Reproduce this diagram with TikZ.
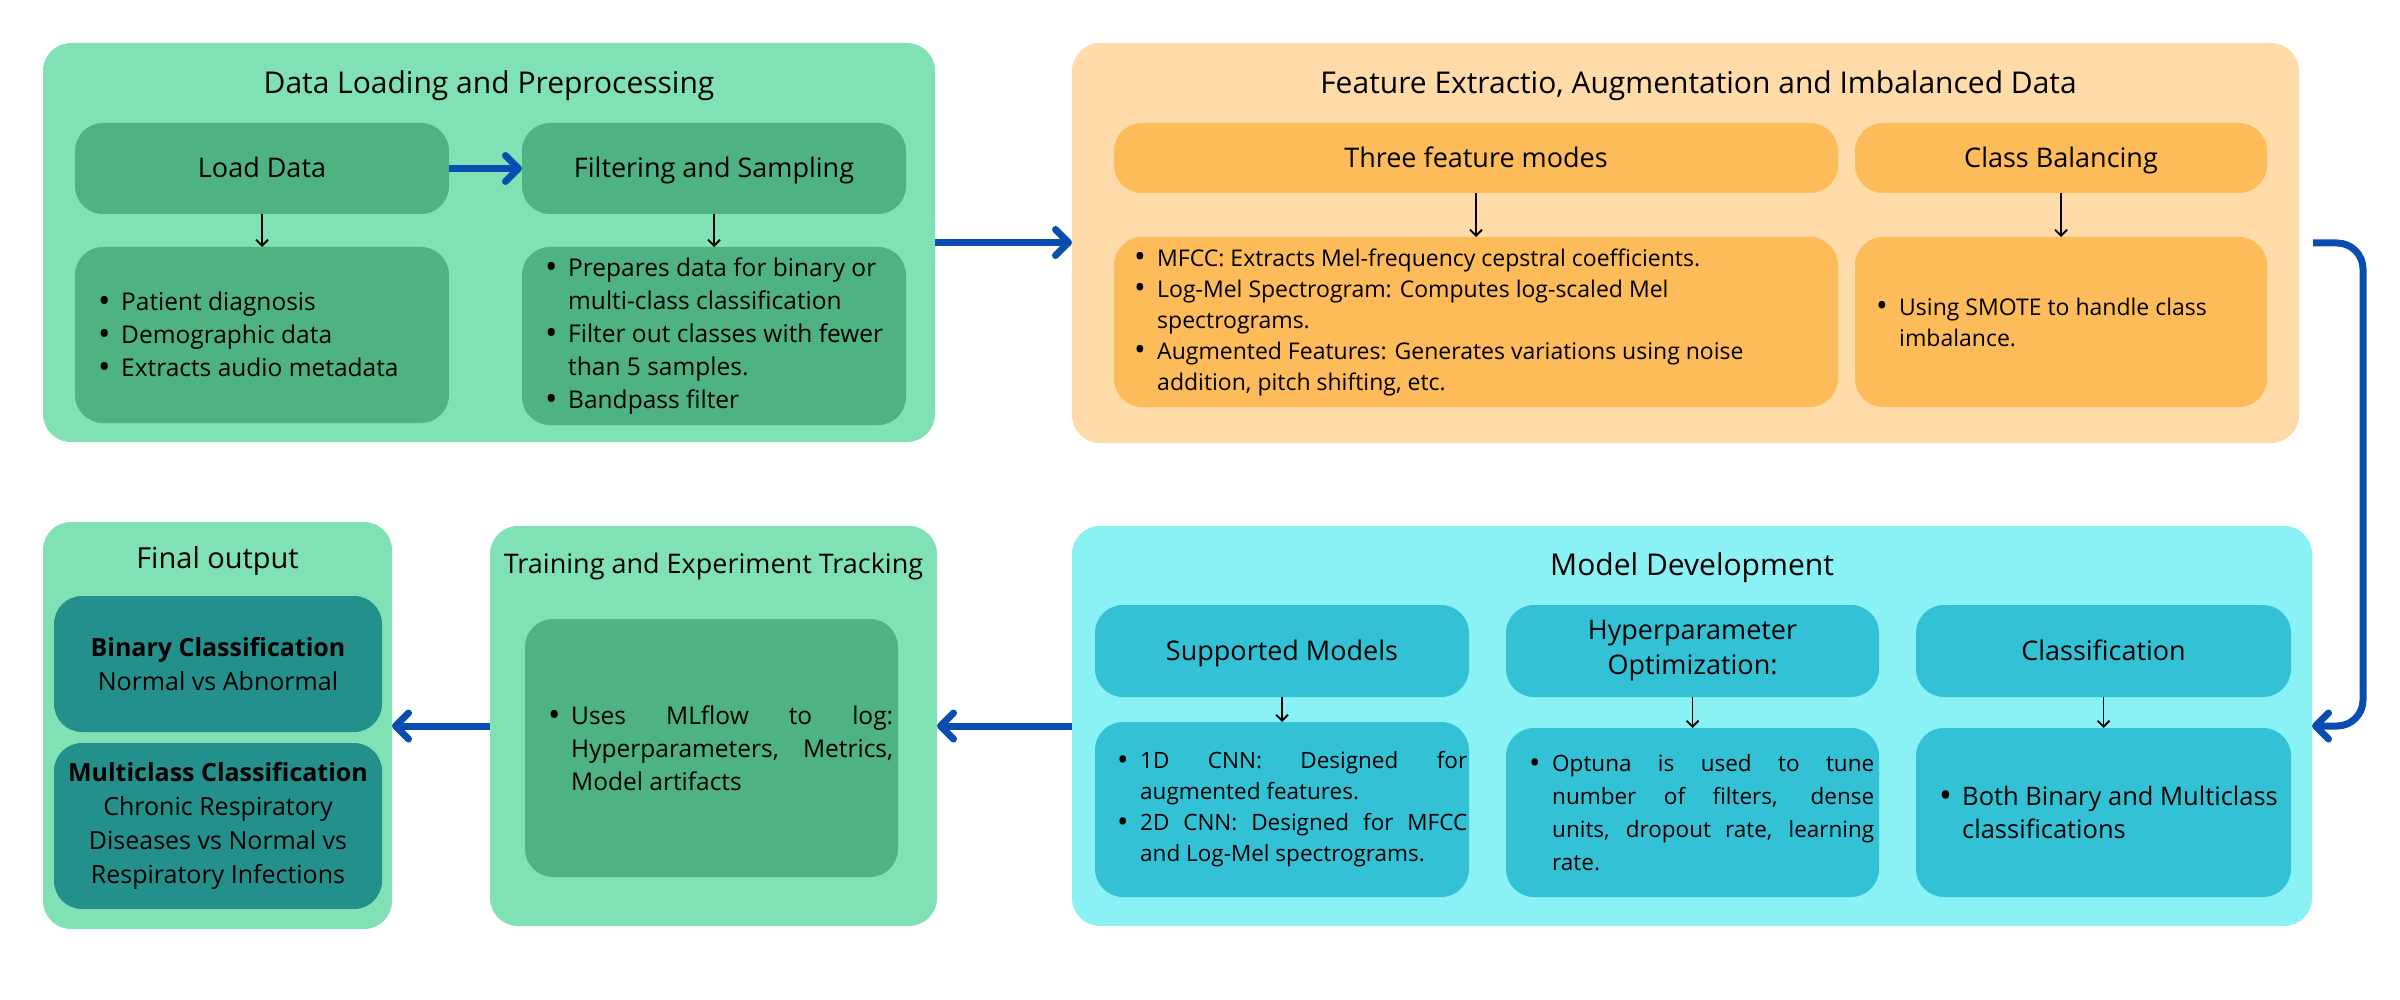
\documentclass[tikz,border=0pt]{standalone}
\usepackage{fontspec}
\usepackage{graphicx}
\setmainfont{Open Sans}
\usetikzlibrary{arrows.meta}
\definecolor{gA}{HTML}{80E2B4}
\definecolor{gB}{HTML}{4FB283}
\definecolor{oA}{HTML}{FEDBA8}
\definecolor{oB}{HTML}{FDBB5A}
\definecolor{cA}{HTML}{8AF1F5}
\definecolor{cB}{HTML}{33C1D6}
\definecolor{tB}{HTML}{23908B}
\definecolor{bl}{HTML}{0A4DB0}
\newcommand{\bul}{\makebox[23pt][l]{\raisebox{-0.08em}{\scalebox{1.35}{\textbullet}}}}
\newcommand{\ind}{\hspace*{23pt}}
\newcommand{\jl}[2]{\makebox[#1][s]{#2}}
\newcommand{\panel}[6]{\node[panelbox, fill=#6, minimum width={(#4-#2)*1pt}, minimum height={(#5-#3)*1pt}] (#1) at (#2pt,-#3pt) {};}
\tikzset{
  panelbox/.style={rounded corners=28pt, anchor=north west, inner sep=0pt, outer sep=0pt, draw=none},
  ttl/.style={inner sep=0pt, text height=21pt, text depth=0pt, font=\fontsize{30}{36}\selectfont},
  lbltwo/.style={inner sep=0pt, align=center, font=\fontsize{27}{35}\selectfont},
  lbl/.style={lbltwo, text height=19pt, text depth=0pt},
  lstA/.style={anchor=west, align=left, inner sep=0pt, font=\fontsize{24.5}{33}\selectfont},
  lstB/.style={anchor=west, align=left, inner sep=0pt, font=\fontsize{23}{31}\selectfont},
  lstC/.style={anchor=west, align=left, inner sep=0pt, font=\fontsize{23}{32}\selectfont},
  outp/.style={inner sep=0pt, align=center, font=\fontsize{25}{34}\selectfont},
  bluearr/.style={draw=bl, line width=7pt, -{Straight Barb[length=13pt,width=26pt,round]}},
  blk/.style={draw=black, line width=1.8pt, -{Straight Barb[length=6pt,width=12pt]}}
}
\begin{document}
\begin{tikzpicture}[x=1pt,y=1pt]
\useasboundingbox[fill=white] (0,0) rectangle (2400,-1000);
% ---------- Data loading ----------
\panel{dl}{43}{43}{935}{442}{gA}
\node[ttl] (dlT) at ([yshift=-40pt]dl.north) {Data Loading and Preprocessing};
\panel{load}{75}{123}{449}{214}{gB}
\panel{filt}{522}{123}{906}{214}{gB}
\panel{loadL}{75}{247}{449}{423}{gB}
\panel{filtL}{522}{247}{906}{425}{gB}
\node[lbl] (loadT) at (load) {Load Data};
\node[lbl] (filtT) at (filt) {Filtering and Sampling};
\node[lstA] (loadLT) at ([xshift=23pt]loadL.west) {\bul Patient diagnosis\\ \bul Demographic data\\ \bul Extracts audio metadata};
\node[lstA] (filtLT) at ([xshift=23pt]filtL.west) {\bul Prepares data for binary or\\ \ind multi-class classification\\ \bul Filter out classes with fewer\\ \ind than 5 samples.\\ \bul Bandpass filter};
% ---------- Feature extraction ----------
\panel{fe}{1072}{43}{2299}{443}{oA}
\node[ttl] (feT) at ([xshift=13pt,yshift=-40pt]fe.north) {Feature Extractio, Augmentation and Imbalanced Data};
\panel{modes}{1114}{123}{1838}{193}{oB}
\panel{bal}{1855}{123}{2267}{193}{oB}
\panel{modesL}{1114}{237}{1838}{407}{oB}
\panel{balL}{1855}{237}{2267}{407}{oB}
\node[lbl] (modesT) at (modes) {Three feature modes};
\node[lbl] (balT) at (bal) {Class Balancing};
\node[lstB] (modesLT) at ([xshift=20pt]modesL.west) {\bul MFCC: Extracts Mel-frequency cepstral coefficients.\\ \bul Log-Mel Spectrogram: Computes log-scaled Mel\\ \ind spectrograms.\\ \bul Augmented Features: Generates variations using noise\\ \ind addition, pitch shifting, etc.};
\node[lstB] (balLT) at ([xshift=21pt]balL.west) {\bul Using SMOTE to handle class\\ \ind imbalance.};
% ---------- Model development ----------
\panel{md}{1072}{526}{2312}{926}{cA}
\node[ttl] (mdT) at ([yshift=-39pt]md.north) {Model Development};
\panel{supp}{1095}{605}{1469}{697}{cB}
\panel{hyp}{1506}{605}{1879}{697}{cB}
\panel{cls}{1916}{605}{2291}{697}{cB}
\panel{suppL}{1095}{722}{1469}{897}{cB}
\panel{hypL}{1506}{728}{1879}{897}{cB}
\panel{clsL}{1916}{728}{2291}{897}{cB}
\node[lbl] (suppT) at (supp) {Supported Models};
\node[lbltwo] (hypT) at (hyp) {Hyperparameter\\Optimization:};
\node[lbl] (clsT) at (cls) {Classification};
\node[lstC, font=\fontsize{22.5}{31}\selectfont] (suppLT) at ([xshift=22pt]suppL.west) {\bul\jl{327pt}{1D CNN: Designed for}\\ \ind augmented features.\\ \bul\jl{327pt}{2D CNN: Designed for MFCC}\\ \ind and Log-Mel spectrograms.};
\node[lstC, font=\fontsize{22.5}{33}\selectfont] (hypLT) at ([xshift=23pt]hypL.west) {\bul\jl{322pt}{Optuna is used to tune}\\ \ind\jl{322pt}{number of filters, dense}\\ \ind\jl{322pt}{units, dropout rate, learning}\\ \ind rate.};
\node[lstC, font=\fontsize{25.5}{33}\selectfont] (clsLT) at ([xshift=23pt]clsL.west) {\bul Both Binary and Multiclass\\ \ind classifications};
% ---------- Training ----------
\panel{tr}{490}{526}{937}{926}{gA}
\node[ttl, text height=19pt, font=\fontsize{27}{34}\selectfont] (trT) at ([yshift=-38pt]tr.north) {Training and Experiment Tracking};
\panel{trL}{525}{619}{898}{877}{gB}
\node[lstC, font=\fontsize{24.5}{33}\selectfont] (trLT) at ([xshift=23pt]trL.west) {\bul\jl{322pt}{Uses MLflow to log:}\\ \ind\jl{322pt}{Hyperparameters, Metrics,}\\ \ind Model artifacts};
% ---------- Final output ----------
\panel{fo}{43}{522}{392}{929}{gA}
\node[ttl, font=\fontsize{29}{36}\selectfont] (foT) at ([yshift=-36pt]fo.north) {Final output};
\panel{bin}{54}{596}{382}{732}{tB}
\panel{multi}{54}{743}{382}{909}{tB}
\node[outp] (binT) at (bin) {\textbf{Binary Classification}\\Normal vs Abnormal};
\node[outp] (multiT) at (multi) {\textbf{Multiclass Classification}\\Chronic Respiratory\\Diseases vs Normal vs\\Respiratory Infections};
% ---------- connectors ----------
\draw[bluearr] (load.east) -- (filt.west);
\draw[bluearr] (dl.east) -- (fe.west |- dl.east);
\coordinate (bend) at (2363,-726);
\draw[bluearr, rounded corners=26pt] ([xshift=14pt]fe.east) -| (bend) -- (md.east);
\draw[bluearr] (md.west) -- (tr.east);
\draw[bluearr] (tr.west) -- (fo.east |- tr.west);
\draw[blk] (load.south) -- (loadL.north);
\draw[blk] (filt.south) -- (filtL.north);
\draw[blk] (modes.south) -- (modesL.north);
\draw[blk] (bal.south) -- (balL.north);
\draw[blk] (supp.south) -- (suppL.north);
\draw[blk] (hyp.south) -- (hypL.north);
\draw[blk] (cls.south) -- (clsL.north);
\end{tikzpicture}
\end{document}
